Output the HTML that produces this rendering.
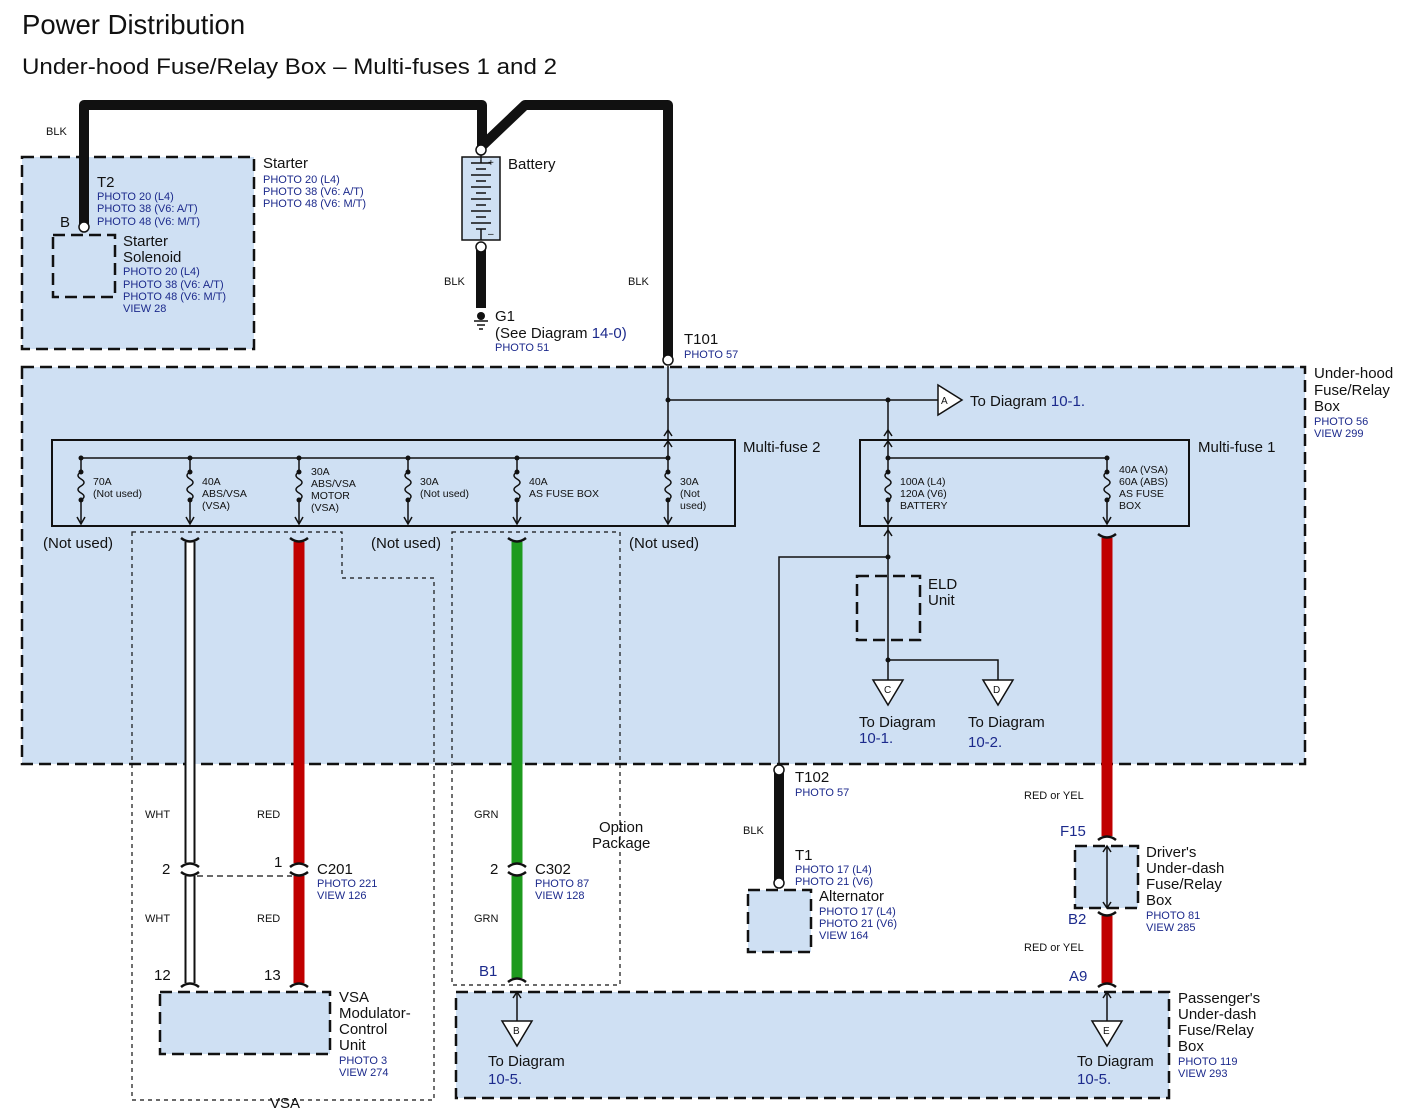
<!DOCTYPE html>
<html><head><meta charset="utf-8"><style>
html,body{margin:0;padding:0;background:#fff;}
svg{display:block;font-family:"Liberation Sans",sans-serif;}
.t{font-size:15px;fill:#111;}
.s{font-size:11px;fill:#111;}
.b{font-size:11px;fill:#1c2a8c;}
.bl{font-size:15px;fill:#1c2a8c;}
.box{fill:#cfe0f3;stroke:#111;stroke-width:2.5;stroke-dasharray:12 6;}
.thin{fill:none;stroke:#111;stroke-width:1.2;stroke-dasharray:4 4;}
.ln{fill:none;stroke:#111;stroke-width:1.5;}
</style></head><body>
<svg width="1407" height="1119" viewBox="0 0 1407 1119" xmlns="http://www.w3.org/2000/svg">
<defs>
<g id="fz">
<line x1="0" y1="0" x2="0" y2="14" stroke="#111" stroke-width="1.5"/>
<circle cx="0" cy="0" r="2.5" fill="#111"/>
<circle cx="0" cy="14" r="2.5" fill="#111"/>
<path d="M0 14 q-6 3.5 0 7 q6 3.5 0 7 q-6 3.5 0 7 q6 3.5 0 7" fill="none" stroke="#111" stroke-width="1.5"/>
<circle cx="0" cy="42" r="2.5" fill="#111"/>
<line x1="0" y1="42" x2="0" y2="66" stroke="#111" stroke-width="1.5"/>
<path d="M-4 59 L0 66 L4 59" fill="none" stroke="#111" stroke-width="1.5"/>
</g>
<g id="ctop"><path d="M-9 4 Q0 -3 9 4" fill="none" stroke="#111" stroke-width="2.5"/></g>
<g id="cbot"><path d="M-9 -4 Q0 3 9 -4" fill="none" stroke="#111" stroke-width="2.5"/></g>
</defs>

<text x="22" y="34" style="font-size:27.5px" fill="#111">Power Distribution</text>
<text x="22" y="74" style="font-size:22px" fill="#111" textLength="535" lengthAdjust="spacingAndGlyphs">Under-hood Fuse/Relay Box – Multi-fuses 1 and 2</text>

<!-- starter box -->
<rect x="22" y="157" width="232" height="192" class="box"/>
<rect x="53" y="235" width="62" height="62" class="box"/>
<text x="263" y="168" class="t">Starter</text>
<text x="263" y="183" class="b">PHOTO 20 (L4)</text>
<text x="263" y="195" class="b">PHOTO 38 (V6: A/T)</text>
<text x="263" y="207" class="b">PHOTO 48 (V6: M/T)</text>
<text x="97" y="187" class="t">T2</text>
<text x="97" y="200" class="b">PHOTO 20 (L4)</text>
<text x="97" y="212" class="b">PHOTO 38 (V6: A/T)</text>
<text x="97" y="225" class="b">PHOTO 48 (V6: M/T)</text>
<text x="60" y="227" class="t">B</text>
<text x="123" y="246" class="t">Starter</text>
<text x="123" y="262" class="t">Solenoid</text>
<text x="123" y="275" class="b">PHOTO 20 (L4)</text>
<text x="123" y="288" class="b">PHOTO 38 (V6: A/T)</text>
<text x="123" y="300" class="b">PHOTO 48 (V6: M/T)</text>
<text x="123" y="312" class="b">VIEW 28</text>

<!-- thick BLK top -->
<path d="M84 227 L84 105 L482 105 L482 148" fill="none" stroke="#111" stroke-width="10" stroke-linejoin="round"/>
<path d="M482 146 L525 105 L668 105 L668 358" fill="none" stroke="#111" stroke-width="10" stroke-linejoin="round"/>
<text x="46" y="135" class="s">BLK</text>
<circle cx="84" cy="227" r="5" fill="#fff" stroke="#111" stroke-width="1.5"/>

<!-- battery -->
<rect x="462" y="157" width="38" height="83" fill="#cfe0f3" stroke="#111" stroke-width="1.5"/>
<circle cx="481" cy="150" r="5" fill="#fff" stroke="#111" stroke-width="1.5"/>
<g stroke="#111" stroke-width="1.5">
<line x1="481" y1="155" x2="481" y2="163"/>
<line x1="471" y1="163" x2="491" y2="163"/><line x1="476" y1="169" x2="486" y2="169"/>
<line x1="471" y1="175" x2="491" y2="175"/><line x1="476" y1="181" x2="486" y2="181"/>
<line x1="471" y1="187" x2="491" y2="187"/><line x1="476" y1="193" x2="486" y2="193"/>
<line x1="471" y1="199" x2="491" y2="199"/><line x1="476" y1="205" x2="486" y2="205"/>
<line x1="471" y1="211" x2="491" y2="211"/><line x1="476" y1="217" x2="486" y2="217"/>
<line x1="471" y1="223" x2="491" y2="223"/><line x1="476" y1="229" x2="486" y2="229"/>
<line x1="481" y1="229" x2="481" y2="240"/>
</g>
<text x="488" y="166" style="font-size:10px" fill="#111">+</text>
<text x="488" y="237" style="font-size:10px" fill="#111">–</text>
<text x="508" y="169" class="t">Battery</text>
<line x1="481" y1="250" x2="481" y2="308" stroke="#111" stroke-width="10"/>
<circle cx="481" cy="247" r="5" fill="#fff" stroke="#111" stroke-width="1.5"/>
<circle cx="481" cy="316" r="4" fill="#111"/>
<line x1="474" y1="321" x2="488" y2="321" stroke="#111" stroke-width="1.5"/>
<line x1="477" y1="325" x2="485" y2="325" stroke="#111" stroke-width="1.5"/>
<line x1="479" y1="329" x2="483" y2="329" stroke="#111" stroke-width="1.5"/>
<text x="444" y="285" class="s">BLK</text>
<text x="628" y="285" class="s">BLK</text>
<text x="495" y="321" class="t">G1</text>
<text x="495" y="338" class="t">(See Diagram <tspan fill="#1c2a8c">14-0)</tspan></text>
<text x="495" y="351" class="b">PHOTO 51</text>
<text x="684" y="344" class="t">T101</text>
<text x="684" y="358" class="b">PHOTO 57</text>

<!-- underhood box -->
<rect x="22" y="367" width="1283" height="397" class="box"/>
<circle cx="668" cy="360" r="5" fill="#fff" stroke="#111" stroke-width="1.5"/>
<text x="1314" y="378" class="t">Under-hood</text>
<text x="1314" y="395" class="t">Fuse/Relay</text>
<text x="1314" y="411" class="t">Box</text>
<text x="1314" y="425" class="b">PHOTO 56</text>
<text x="1314" y="437" class="b">VIEW 299</text>

<line x1="668" y1="366" x2="668" y2="440" class="ln"/>
<line x1="668" y1="400" x2="938" y2="400" class="ln"/>
<circle cx="668" cy="400" r="2.5" fill="#111"/>
<circle cx="888" cy="400" r="2.5" fill="#111"/>
<line x1="888" y1="400" x2="888" y2="440" class="ln"/>
<path d="M938 385 L962 400 L938 415 Z" fill="#fff" stroke="#111" stroke-width="1.5"/>
<text x="941" y="404" style="font-size:10px" fill="#111">A</text>
<text x="970" y="406" class="t">To Diagram <tspan fill="#1c2a8c">10-1.</tspan></text>
<path d="M664 436 L668 430 L672 436" class="ln"/>
<path d="M884 436 L888 430 L892 436" class="ln"/>

<!-- Multi-fuse 2 -->
<rect x="52" y="440" width="683" height="86" fill="none" stroke="#111" stroke-width="2"/>
<text x="743" y="452" class="t">Multi-fuse 2</text>
<line x1="81" y1="458" x2="668" y2="458" class="ln"/>
<line x1="668" y1="440" x2="668" y2="458" class="ln"/>
<path d="M664 447 L668 441 L672 447" class="ln"/>
<use href="#fz" x="81" y="458"/><use href="#fz" x="190" y="458"/><use href="#fz" x="299" y="458"/>
<use href="#fz" x="408" y="458"/><use href="#fz" x="517" y="458"/><use href="#fz" x="668" y="458"/>
<g class="s" style="font-size:10.5px">
<text x="93" y="485">70A</text><text x="93" y="497">(Not used)</text>
<text x="202" y="485">40A</text><text x="202" y="497">ABS/VSA</text><text x="202" y="509">(VSA)</text>
<text x="311" y="475">30A</text><text x="311" y="487">ABS/VSA</text><text x="311" y="499">MOTOR</text><text x="311" y="511">(VSA)</text>
<text x="420" y="485">30A</text><text x="420" y="497">(Not used)</text>
<text x="529" y="485">40A</text><text x="529" y="497">AS FUSE BOX</text>
<text x="680" y="485">30A</text><text x="680" y="497">(Not</text><text x="680" y="509">used)</text>
</g>
<text x="43" y="548" class="t">(Not used)</text>
<text x="371" y="548" class="t">(Not used)</text>
<text x="629" y="548" class="t">(Not used)</text>

<!-- Multi-fuse 1 -->
<rect x="860" y="440" width="329" height="86" fill="none" stroke="#111" stroke-width="2"/>
<text x="1198" y="452" class="t">Multi-fuse 1</text>
<line x1="888" y1="440" x2="888" y2="458" class="ln"/>
<path d="M884 447 L888 441 L892 447" class="ln"/>
<line x1="888" y1="458" x2="1107" y2="458" class="ln"/>
<use href="#fz" x="888" y="458"/><use href="#fz" x="1107" y="458"/>
<g class="s" style="font-size:10.5px">
<text x="900" y="485">100A (L4)</text><text x="900" y="497">120A (V6)</text><text x="900" y="509">BATTERY</text>
<text x="1119" y="473">40A (VSA)</text><text x="1119" y="485">60A (ABS)</text><text x="1119" y="497">AS FUSE</text><text x="1119" y="509">BOX</text>
</g>

<!-- ELD area -->
<line x1="888" y1="526" x2="888" y2="680" class="ln"/>
<path d="M884 536 L888 530 L892 536" class="ln"/>
<circle cx="888" cy="557" r="2.5" fill="#111"/>
<path d="M888 557 L779 557 L779 768" class="ln"/>
<rect x="857" y="576" width="63" height="64" fill="none" stroke="#111" stroke-width="2.5" stroke-dasharray="12 6"/>
<text x="928" y="589" class="t">ELD</text>
<text x="928" y="605" class="t">Unit</text>
<circle cx="888" cy="660" r="2.5" fill="#111"/>
<path d="M888 660 L998 660 L998 680" class="ln"/>
<path d="M873 680 L903 680 L888 705 Z" fill="#fff" stroke="#111" stroke-width="1.5"/>
<text x="884" y="693" style="font-size:10px" fill="#111">C</text>
<path d="M983 680 L1013 680 L998 705 Z" fill="#fff" stroke="#111" stroke-width="1.5"/>
<text x="993" y="693" style="font-size:10px" fill="#111">D</text>
<text x="859" y="727" class="t">To Diagram</text>
<text x="859" y="743" class="bl">10-1.</text>
<text x="968" y="727" class="t">To Diagram</text>
<text x="968" y="747" class="bl">10-2.</text>

<!-- dashed VSA region & option pkg -->
<path d="M132 532 L342 532 L342 578 L434 578 L434 1100 L132 1100 Z" class="thin"/>
<text x="270" y="1108" class="t">VSA</text>
<rect x="452" y="532" width="168" height="453" class="thin"/>
<text x="599" y="832" class="t">Option</text>
<text x="592" y="848" class="t">Package</text>

<!-- wires -->
<line x1="190" y1="542" x2="190" y2="863" stroke="#111" stroke-width="11"/>
<line x1="190" y1="542" x2="190" y2="863" stroke="#fff" stroke-width="7"/>
<line x1="190" y1="876" x2="190" y2="983" stroke="#111" stroke-width="11"/>
<line x1="190" y1="876" x2="190" y2="983" stroke="#fff" stroke-width="7"/>
<line x1="299" y1="542" x2="299" y2="863" stroke="#c00000" stroke-width="11"/>
<line x1="299" y1="876" x2="299" y2="983" stroke="#c00000" stroke-width="11"/>
<line x1="517" y1="542" x2="517" y2="863" stroke="#1e9a1e" stroke-width="11"/>
<line x1="517" y1="876" x2="517" y2="978" stroke="#1e9a1e" stroke-width="11"/>
<line x1="1107" y1="538" x2="1107" y2="836" stroke="#c00000" stroke-width="11"/>
<line x1="1107" y1="916" x2="1107" y2="983" stroke="#c00000" stroke-width="11"/>
<use href="#cbot" x="190" y="542"/><use href="#cbot" x="299" y="542"/><use href="#cbot" x="517" y="542"/><use href="#cbot" x="1107" y="538"/>
<use href="#ctop" x="190" y="863"/><use href="#cbot" x="190" y="876"/>
<use href="#ctop" x="299" y="863"/><use href="#cbot" x="299" y="876"/>
<use href="#ctop" x="517" y="863"/><use href="#cbot" x="517" y="876"/>
<use href="#ctop" x="190" y="983"/><use href="#ctop" x="299" y="983"/><use href="#ctop" x="517" y="978"/>
<use href="#ctop" x="1107" y="836"/><use href="#cbot" x="1107" y="916"/><use href="#ctop" x="1107" y="983"/>
<line x1="197" y1="876" x2="292" y2="876" stroke="#111" stroke-width="1.2" stroke-dasharray="6 4"/>

<text x="145" y="818" class="s">WHT</text>
<text x="145" y="922" class="s">WHT</text>
<text x="257" y="818" class="s">RED</text>
<text x="257" y="922" class="s">RED</text>
<text x="474" y="818" class="s">GRN</text>
<text x="474" y="922" class="s">GRN</text>
<text x="162" y="874" class="t">2</text>
<text x="274" y="867" class="t">1</text>
<text x="317" y="874" class="t">C201</text>
<text x="317" y="887" class="b">PHOTO 221</text>
<text x="317" y="899" class="b">VIEW 126</text>
<text x="490" y="874" class="t">2</text>
<text x="535" y="874" class="t">C302</text>
<text x="535" y="887" class="b">PHOTO 87</text>
<text x="535" y="899" class="b">VIEW 128</text>
<text x="154" y="980" class="t">12</text>
<text x="264" y="980" class="t">13</text>
<text x="479" y="976" class="bl">B1</text>

<!-- VSA modulator -->
<rect x="160" y="992" width="170" height="62" class="box"/>
<text x="339" y="1002" class="t">VSA</text>
<text x="339" y="1018" class="t">Modulator-</text>
<text x="339" y="1034" class="t">Control</text>
<text x="339" y="1050" class="t">Unit</text>
<text x="339" y="1064" class="b">PHOTO 3</text>
<text x="339" y="1076" class="b">VIEW 274</text>

<!-- T102 / alternator -->
<line x1="779" y1="772" x2="779" y2="882" stroke="#111" stroke-width="10"/>
<circle cx="779" cy="770" r="5" fill="#fff" stroke="#111" stroke-width="1.5"/>
<circle cx="779" cy="883" r="5" fill="#fff" stroke="#111" stroke-width="1.5"/>
<text x="743" y="834" class="s">BLK</text>
<text x="795" y="782" class="t">T102</text>
<text x="795" y="796" class="b">PHOTO 57</text>
<text x="795" y="860" class="t">T1</text>
<text x="795" y="873" class="b">PHOTO 17 (L4)</text>
<text x="795" y="885" class="b">PHOTO 21 (V6)</text>
<rect x="748" y="890" width="63" height="62" class="box"/>
<text x="819" y="901" class="t">Alternator</text>
<text x="819" y="915" class="b">PHOTO 17 (L4)</text>
<text x="819" y="927" class="b">PHOTO 21 (V6)</text>
<text x="819" y="939" class="b">VIEW 164</text>

<!-- Driver's box -->
<text x="1024" y="799" class="s">RED or YEL</text>
<text x="1060" y="836" class="bl">F15</text>
<rect x="1075" y="846" width="63" height="62" class="box"/>
<line x1="1107" y1="846" x2="1107" y2="908" class="ln"/>
<path d="M1103 852 L1107 846 L1111 852" class="ln"/>
<path d="M1103 902 L1107 908 L1111 902" class="ln"/>
<text x="1146" y="857" class="t">Driver's</text>
<text x="1146" y="873" class="t">Under-dash</text>
<text x="1146" y="889" class="t">Fuse/Relay</text>
<text x="1146" y="905" class="t">Box</text>
<text x="1146" y="919" class="b">PHOTO 81</text>
<text x="1146" y="931" class="b">VIEW 285</text>
<text x="1068" y="924" class="bl">B2</text>
<text x="1024" y="951" class="s">RED or YEL</text>
<text x="1069" y="981" class="bl">A9</text>

<!-- Passenger's box -->
<rect x="456" y="992" width="713" height="106" class="box"/>
<line x1="517" y1="992" x2="517" y2="1021" class="ln"/>
<path d="M513 998 L517 992 L521 998" class="ln"/>
<path d="M502 1021 L532 1021 L517 1046 Z" fill="#fff" stroke="#111" stroke-width="1.5"/>
<text x="513" y="1034" style="font-size:10px" fill="#111">B</text>
<text x="488" y="1066" class="t">To Diagram</text>
<text x="488" y="1084" class="bl">10-5.</text>
<line x1="1107" y1="992" x2="1107" y2="1021" class="ln"/>
<path d="M1103 998 L1107 992 L1111 998" class="ln"/>
<path d="M1092 1021 L1122 1021 L1107 1046 Z" fill="#fff" stroke="#111" stroke-width="1.5"/>
<text x="1103" y="1034" style="font-size:10px" fill="#111">E</text>
<text x="1077" y="1066" class="t">To Diagram</text>
<text x="1077" y="1084" class="bl">10-5.</text>
<text x="1178" y="1003" class="t">Passenger's</text>
<text x="1178" y="1019" class="t">Under-dash</text>
<text x="1178" y="1035" class="t">Fuse/Relay</text>
<text x="1178" y="1051" class="t">Box</text>
<text x="1178" y="1065" class="b">PHOTO 119</text>
<text x="1178" y="1077" class="b">VIEW 293</text>
</svg>
</body></html>
